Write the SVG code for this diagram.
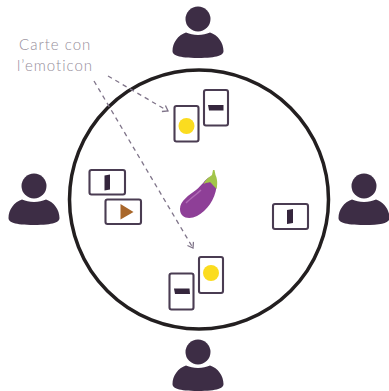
<svg xmlns="http://www.w3.org/2000/svg" width="389" height="391" viewBox="0 0 389 391">
<style>
.p{fill:#3d2d45}
.c{fill:#fff;stroke:#4a3c52;stroke-width:2.100}
.m{fill:#35263d}
.y{fill:#fbdc1f}
.d{fill:none;stroke:#80758a;stroke-width:1.300;stroke-dasharray:4.500 4}
.t{font-family:"Lato","Liberation Sans",sans-serif;font-size:15px;fill:#968e9b;letter-spacing:1px;font-weight:300}
</style>
<defs>
<marker id="a" markerWidth="9" markerHeight="9" refX="6" refY="4" orient="auto" markerUnits="userSpaceOnUse"><path d="M1 0.500L6 4L1 7.500" fill="none" stroke="#80758a" stroke-width="1.300"/></marker>
<g id="u"><circle cx="0" cy="0" r="12.500"/><path d="M-12 13.500C-8 15 -5 16 0 16C5 16 8 15 12 13.500C20 16 25.500 24 25.500 32C25.500 36 20 39 0 39C-20 39 -25.500 36 -25.500 32C-25.500 24 -20 16 -12 13.500Z"/></g>
</defs>
<circle cx="199" cy="199.500" r="129.500" fill="#fff" stroke="#231f20" stroke-width="3.500"/>
<g id="connectors">
<path class="d" d="M108 76L168 111" marker-end="url(#a)"/>
<path class="d" d="M94 81L193 248" marker-end="url(#a)"/>
</g>
<g id="player-top" class="p"><use href="#u" x="198" y="19"/></g>
<g id="player-left" class="p"><use href="#u" x="34" y="186"/></g>
<g id="player-right" class="p"><use href="#u" x="364" y="186"/></g>
<g id="player-bottom" class="p"><use href="#u" x="198" y="352"/></g>
<g id="label"><text class="t" x="19" y="50">Carte con</text><text class="t" x="17" y="71">l’emoticon</text></g>
<g id="card-top-1"><rect class="c" x="174.500" y="106" width="24" height="35.500" rx="2"/><circle class="y" cx="186.500" cy="126" r="8"/></g>
<g id="card-top-2"><rect class="c" x="204" y="90" width="24" height="35.500" rx="2"/><path class="m" d="M208 105L223.500 105L223.500 110.500L209 110.500Z"/></g>
<g id="card-left-1"><rect class="c" x="89.500" y="170" width="35.500" height="24.500" rx="2"/><path class="m" d="M104.500 175.500L110 174.500L110 189.500L104.500 190.500Z"/></g>
<g id="card-left-2"><rect class="c" x="105.500" y="199.500" width="35.500" height="24.500" rx="2"/><path fill="#a9672a" d="M120.500 204L133.500 212L120.500 219.500Z"/></g>
<g id="card-right"><rect class="c" x="273" y="204" width="35" height="25" rx="2"/><path class="m" d="M287 210L293 209L293 223L287 224Z"/></g>
<g id="card-bottom-1"><rect class="c" x="169.500" y="273.500" width="24" height="36" rx="2"/><path class="m" d="M174 288.500L189.500 288.500L190 294L175 294Z"/></g>
<g id="card-bottom-2"><rect class="c" x="199" y="257" width="24" height="36" rx="2"/><circle class="y" cx="211" cy="273" r="8"/></g>
<g id="eggplant">
<path fill="#8e3f97" d="M180 209C180 201 189 195 196 190C202 185 205 180 208 178C212 176 217 181 216.500 187C215 199 207 211 197 216C189 220 180 218 180 209Z"/>
<path fill="none" stroke="#b06bb5" stroke-width="1.500" d="M186 203C191 198 197 194 201 190"/>
<path fill="#a2c54a" d="M213 170L212 175C209 177 205 180 203.500 184C207 182 209 183 210 182C212 184 214 186 216.500 189C218 183 217 178 215.500 175L214.500 170Z"/>
</g>
</svg>
